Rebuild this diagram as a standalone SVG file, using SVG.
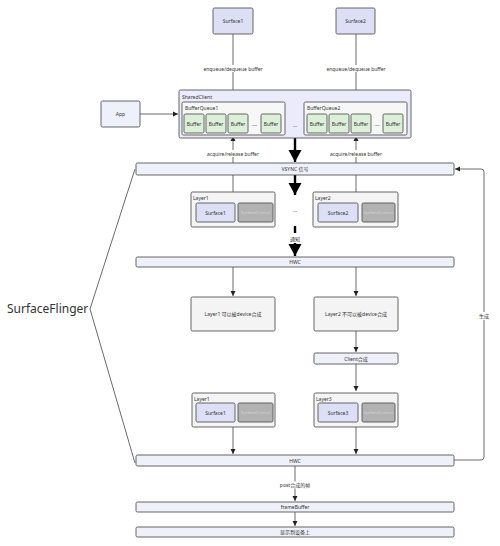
<svg xmlns="http://www.w3.org/2000/svg" width="500" height="546" viewBox="0 0 500 546">
<style>
text{font-family:"Noto Sans","Noto Sans CJK SC",sans-serif;fill:#333;font-size:5px}
.c{text-anchor:middle;dominant-baseline:central}
.box{stroke:#555;stroke-width:0.9}
.sf{fill:#dcdff5}
.lt{fill:#eef0fa}
.sc{fill:#ecebfb}
.bq{fill:#f7f7f7}
.bf{fill:#dcefd8}
.ly{fill:#f4f4f4}
.gr{fill:#b2b2b2}
.grt{fill:#d8d8d8}
.ln{stroke:#444;stroke-width:0.8;fill:none}
.tk{stroke:#000;stroke-width:2.4;fill:none}
.lb{fill:#fff}
</style>
<defs>
<marker id="a" markerWidth="6" markerHeight="6" refX="5" refY="3" orient="auto" markerUnits="userSpaceOnUse"><path d="M0,0.5 L5,3 L0,5.5 Z" fill="#222"/></marker>
<marker id="big" markerWidth="14" markerHeight="14" refX="12" refY="6.5" orient="auto" markerUnits="userSpaceOnUse"><path d="M0,0 L12,6.5 L0,13 Z" fill="#000"/></marker>
</defs>
<rect width="500" height="546" fill="#fff"/>

<g id="connectors">
<line class="ln" x1="233" y1="34" x2="233" y2="101" marker-end="url(#a)"/>
<line class="ln" x1="356" y1="34" x2="356" y2="101" marker-end="url(#a)"/>
<rect class="lb" x="204" y="65" width="58" height="7"/>
<rect class="lb" x="327" y="65" width="58" height="7"/>
<text x="233" y="68.5" class="c">enqueue/dequeue buffer</text>
<text x="356" y="68.5" class="c">enqueue/dequeue buffer</text>
<line class="ln" x1="140" y1="114" x2="178" y2="114" marker-end="url(#a)"/>
<line class="ln" x1="233" y1="192" x2="233" y2="136" marker-end="url(#a)"/>
<line class="ln" x1="356" y1="192" x2="356" y2="136" marker-end="url(#a)"/>
<rect class="lb" x="206" y="150" width="54" height="7"/>
<rect class="lb" x="329" y="150" width="54" height="7"/>
<text x="233" y="153.5" class="c">acquire/release buffer</text>
<text x="356" y="153.5" class="c">acquire/release buffer</text>
<line class="tk" x1="295" y1="138" x2="295" y2="162" marker-end="url(#big)"/>
<line class="tk" x1="295" y1="175" x2="295" y2="195" marker-end="url(#big)"/>
<text x="295" y="210" class="c">...</text>
<line class="tk" x1="295" y1="226" x2="295" y2="233"/>
<text x="295" y="239" class="c">通知</text>
<line class="tk" x1="295" y1="243" x2="295" y2="256" marker-end="url(#big)"/>
<line class="ln" x1="233" y1="267" x2="233" y2="296" marker-end="url(#a)"/>
<line class="ln" x1="356" y1="267" x2="356" y2="296" marker-end="url(#a)"/>
<line class="ln" x1="356" y1="331" x2="356" y2="352" marker-end="url(#a)"/>
<line class="ln" x1="356" y1="364" x2="356" y2="391" marker-end="url(#a)"/>
<line class="ln" x1="233" y1="427" x2="233" y2="454" marker-end="url(#a)"/>
<line class="ln" x1="356" y1="427" x2="356" y2="454" marker-end="url(#a)"/>
<path class="ln" d="M454,460 H481 Q484,460 484,457 V172 Q484,169 481,169 H455" marker-end="url(#a)"/>
<rect class="lb" x="479" y="312" width="10" height="8"/>
<text x="484" y="316" class="c">生成</text>
<line class="ln" x1="295" y1="466" x2="295" y2="501" marker-end="url(#a)"/>
<rect class="lb" x="278" y="481.5" width="34" height="7"/>
<text x="295" y="485" class="c">post合成的帧</text>
<line class="ln" x1="295" y1="512" x2="295" y2="526" marker-end="url(#a)"/>
<path class="ln" d="M135,169 L90,309 L135,463"/>
</g>

<g id="surfaceflinger"><text x="7" y="308" style="font-size:12px;dominant-baseline:central">SurfaceFlinger</text></g>

<g id="surface1"><rect class="box sf" x="213" y="8" width="40" height="26" rx="1.5"/><text x="233" y="21" class="c">Surface1</text></g>
<g id="surface2"><rect class="box sf" x="336" y="8" width="39" height="26" rx="1.5"/><text x="355.5" y="21" class="c">Surface2</text></g>
<g id="app"><rect class="box lt" x="101" y="101" width="39" height="26" rx="1.5"/><text x="120.5" y="114" class="c">App</text></g>

<g id="sharedclient">
<rect class="box sc" x="179" y="90" width="232" height="48" rx="1.5"/>
<text x="182" y="96.5" style="dominant-baseline:central">SharedClient</text>
<text x="295" y="125" class="c">...</text>
</g>
<g id="bufferqueue1">
<rect class="box bq" x="182" y="102" width="103" height="33" rx="1.5"/>
<text x="185" y="108" style="dominant-baseline:central">BufferQueue1</text>
<rect class="box bf" x="184" y="114" width="20" height="19" rx="1.5"/><text x="194" y="123.5" class="c">Buffer</text>
<rect class="box bf" x="206" y="114" width="20" height="19" rx="1.5"/><text x="216" y="123.5" class="c">Buffer</text>
<rect class="box bf" x="228" y="114" width="20" height="19" rx="1.5"/><text x="238" y="123.5" class="c">Buffer</text>
<text x="254.5" y="123.5" class="c">....</text>
<rect class="box bf" x="261" y="114" width="20" height="19" rx="1.5"/><text x="271" y="123.5" class="c">Buffer</text>
</g>
<g id="bufferqueue2">
<rect class="box bq" x="304" y="102" width="103" height="33" rx="1.5"/>
<text x="307" y="108" style="dominant-baseline:central">BufferQueue2</text>
<rect class="box bf" x="307" y="114" width="20" height="19" rx="1.5"/><text x="317" y="123.5" class="c">Buffer</text>
<rect class="box bf" x="329" y="114" width="20" height="19" rx="1.5"/><text x="339" y="123.5" class="c">Buffer</text>
<rect class="box bf" x="351" y="114" width="20" height="19" rx="1.5"/><text x="361" y="123.5" class="c">Buffer</text>
<text x="377" y="123.5" class="c">....</text>
<rect class="box bf" x="383" y="114" width="20" height="19" rx="1.5"/><text x="393" y="123.5" class="c">Buffer</text>
</g>

<g id="vsync"><rect class="box lt" x="136" y="163" width="318" height="12" rx="1.5"/><text x="295" y="169" class="c">VSYNC 信号</text></g>

<g id="layer1-top">
<rect class="box ly" x="191" y="192" width="84" height="35" rx="1.5"/>
<text x="193" y="198" style="dominant-baseline:central">Layer1</text>
<rect class="box sf" x="196" y="203" width="39" height="19" rx="1.5"/><text x="215.5" y="212.5" class="c">Surface1</text>
<rect class="box gr" x="238" y="203" width="35" height="19" rx="1.5"/><text x="255.5" y="212.5" class="c grt" style="font-size:4.2px">SurfaceControl</text>
</g>
<g id="layer2-top">
<rect class="box ly" x="313" y="192" width="85" height="35" rx="1.5"/>
<text x="315" y="198" style="dominant-baseline:central">Layer2</text>
<rect class="box sf" x="318" y="203" width="40" height="19" rx="1.5"/><text x="338" y="212.5" class="c">Surface2</text>
<rect class="box gr" x="362" y="203" width="33" height="19" rx="1.5"/><text x="378.5" y="212.5" class="c grt" style="font-size:4.2px">SurfaceControl</text>
</g>

<g id="hwc1"><rect class="box lt" x="136" y="257" width="318" height="10" rx="1.5"/><text x="295" y="262" class="c">HWC</text></g>

<g id="layer1-device"><rect class="box ly" x="191" y="297" width="84" height="34" rx="1.5"/><text x="233" y="314" class="c">Layer1 可以被device合成</text></g>
<g id="layer2-device"><rect class="box ly" x="314" y="297" width="84" height="34" rx="1.5"/><text x="356" y="314" class="c">Layer2 不可以被device合成</text></g>
<g id="client"><rect class="box lt" x="314" y="353" width="84" height="11" rx="1.5"/><text x="356" y="358.5" class="c">Client合成</text></g>

<g id="layer1-bottom">
<rect class="box ly" x="192" y="393" width="83" height="34" rx="1.5"/>
<text x="194" y="399" style="dominant-baseline:central">Layer1</text>
<rect class="box sf" x="196" y="403" width="39" height="19" rx="1.5"/><text x="215.5" y="412.5" class="c">Surface1</text>
<rect class="box gr" x="238" y="403" width="35" height="19" rx="1.5"/><text x="255.5" y="412.5" class="c grt" style="font-size:4.2px">SurfaceControl</text>
</g>
<g id="layer3">
<rect class="box ly" x="314" y="393" width="84" height="34" rx="1.5"/>
<text x="316" y="399" style="dominant-baseline:central">Layer3</text>
<rect class="box sf" x="318" y="403" width="40" height="19" rx="1.5"/><text x="338" y="412.5" class="c">Surface3</text>
<rect class="box gr" x="362" y="403" width="33" height="19" rx="1.5"/><text x="378.5" y="412.5" class="c grt" style="font-size:4.2px">SurfaceControl</text>
</g>

<g id="hwc2"><rect class="box lt" x="136" y="455" width="318" height="11" rx="1.5"/><text x="295" y="460.5" class="c">HWC</text></g>
<g id="framebuffer"><rect class="box lt" x="136" y="502" width="318" height="10" rx="1.5"/><text x="295" y="507" class="c">frameBuffer</text></g>
<g id="display"><rect class="box lt" x="136" y="527" width="318" height="10" rx="1.5"/><text x="295" y="532" class="c">显示到设备上</text></g>
</svg>
